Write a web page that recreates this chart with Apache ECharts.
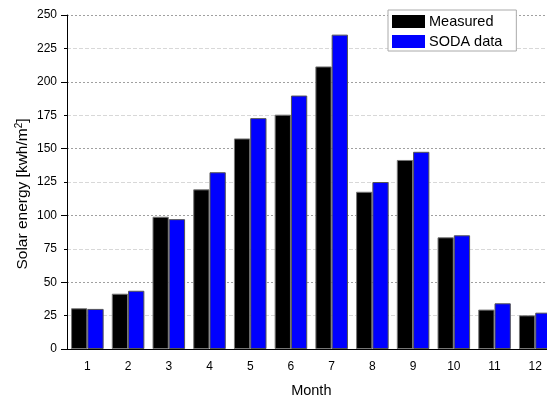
<!DOCTYPE html>
<html><head><meta charset="utf-8">
<script src="https://cdn.jsdelivr.net/npm/echarts@6/dist/echarts.min.js"></script>
<style>html,body{margin:0;padding:0;background:#fff}#c{width:547px;height:396px}</style>
</head><body><div id="c"></div>
<script>
const months = ['1','2','3','4','5','6','7','8','9','10','11','12'];
const measured = [30.5, 41.4, 99, 119.5, 157.6, 175.4, 211.5, 117.7, 141.5, 83.6, 29.5, 25.2];
const soda = [30, 43.6, 97.2, 132.3, 172.8, 189.7, 235.3, 125, 147.6, 85.1, 34.2, 27.2];
const seriesNames = ['Measured', 'SODA data'];
const yMin = 0, yMax = 250;

const chart = echarts.init(document.getElementById('c'), null, {renderer: 'canvas'});
const font = 'Liberation Sans, Arial, sans-serif';
chart.setOption({
  animation: false,
  backgroundColor: '#fff',
  grid: {left: 67, top: 15, height: 334, width: 488.6, containLabel: false, outerBoundsMode: 'none'},
  legend: {
    orient: 'vertical', left: 388, top: 10,
    itemWidth: 33, itemHeight: 13, itemGap: 5,
    padding: [4, 14, 2, 4],
    borderColor: '#aaa', borderWidth: 1, backgroundColor: '#fff',
    textStyle: {fontFamily: font, fontSize: 14.5, color: '#000', padding: [0, 0, 0, -1]},
    itemStyle: {borderWidth: 0},
    data: [{name: seriesNames[0], icon: 'rect'}, {name: seriesNames[1], icon: 'rect'}]
  },
  xAxis: [{
    type: 'category', data: months,
    axisLine: {lineStyle: {color: '#000', width: 1}},
    axisTick: {alignWithLabel: true, length: 6, lineStyle: {color: '#000'}},
    axisLabel: {fontFamily: font, fontSize: 12, color: '#000', margin: 12},
    name: 'Month', nameLocation: 'middle', nameGap: 34,
    nameTextStyle: {fontFamily: font, fontSize: 14.5, color: '#000'}
  }, {
    type: 'category', data: months, position: 'bottom',
    axisLine: {show: false},
    axisTick: {length: 3, lineStyle: {color: '#000'}},
    axisLabel: {show: false}
  }],
  yAxis: [{
    type: 'value', min: yMin, max: yMax, interval: 25,
    axisLine: {show: true, lineStyle: {color: '#000', width: 1}},
    axisTick: {show: true, length: 3, lineStyle: {color: '#000'}},
    axisLabel: {fontFamily: font, fontSize: 12, color: '#000', margin: 10},
    splitLine: {show: true, lineStyle: {color: ['rgba(0,0,0,0)', '#d8d8d8'], type: [4, 2], width: 1}},
    name: 'Solar energy [kwh/m{sup|2}]', nameLocation: 'middle', nameGap: 35, nameMoveOverlap: false,
    nameTextStyle: {fontFamily: font, fontSize: 15.5, color: '#000', padding: [0, 24, 0, 0],
      rich: {sup: {fontFamily: font, fontSize: 10, color: '#000', verticalAlign: 'top', padding: [0, 0, 8, 0]}}}
  }, {
    type: 'value', min: yMin, max: yMax, interval: 50, position: 'left',
    axisLine: {show: false},
    axisTick: {show: true, length: 6, lineStyle: {color: '#000'}},
    axisLabel: {show: false},
    splitLine: {show: true, lineStyle: {color: '#a0a0a0', type: [2, 2], width: 1}}
  }],
  series: [{
    name: seriesNames[0], type: 'bar', data: measured,
    barGap: '0%', barCategoryGap: '20%',
    itemStyle: {color: '#000', borderColor: '#777', borderWidth: 1}
  }, {
    name: seriesNames[1], type: 'bar', data: soda,
    barGap: '0%', barCategoryGap: '20%',
    itemStyle: {color: '#0000ff', borderColor: '#555', borderWidth: 1}
  }]
});
</script></body></html>
